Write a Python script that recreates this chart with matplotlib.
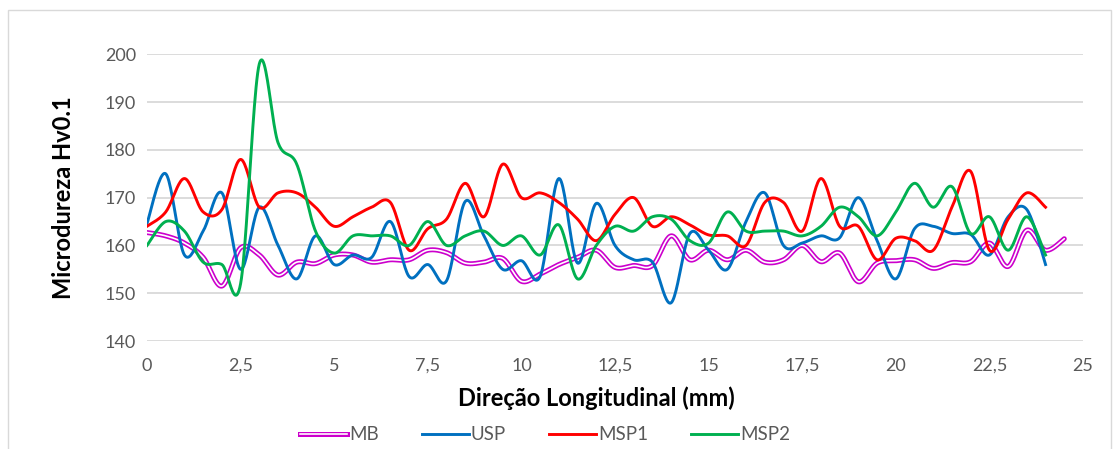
import numpy as np
import matplotlib.pyplot as plt
from matplotlib.lines import Line2D
from matplotlib.patches import Rectangle

plt.rcParams['font.family'] = ['Lato', 'DejaVu Sans']

dist = [0, 0.5, 1, 1.5, 2, 2.5, 3, 3.5, 4, 4.5, 5, 5.5, 6, 6.5, 7, 7.5, 8, 8.5, 9, 9.5,
        10, 10.5, 11, 11.5, 12, 12.5, 13, 13.5, 14, 14.5, 15, 15.5, 16, 16.5, 17, 17.5,
        18, 18.5, 19, 19.5, 20, 20.5, 21, 21.5, 22, 22.5, 23, 23.5, 24, 24.5]

mb = [162.7, 162, 160.5, 157.5, 151.5, 159.5, 158, 153.8, 156.5, 156.2,
      158, 158, 156.5, 157, 157, 159, 158.5, 156.3, 156.5, 157.3,
      152.5, 154, 156, 157.5, 159, 155.4, 155.8, 155.8, 162, 157,
      159, 157, 159, 156.5, 157, 160, 156.6, 158.4, 152.4, 156.3,
      156.8, 157, 155.2, 156.4, 156.6, 160.5, 155.6, 163.2, 159, 161.4]
usp = [164.6, 175, 158, 163, 171, 155, 168, 160, 153, 162,
       156, 158, 157.5, 165, 153.5, 156, 152.6, 169.2, 162, 155,
       156.8, 153.5, 174, 156.3, 168.8, 160, 157, 156.5, 148, 162.5,
       159, 155, 165, 171, 160, 160.5, 162, 161.6, 170, 161,
       153, 163.5, 164, 162.5, 162.3, 158, 166, 167.5, 156]
msp1 = [164, 167, 174, 167, 167.5, 178, 168, 171, 171, 168,
        164, 166, 168, 169, 159, 163.5, 165.5, 173, 166, 177,
        170, 171, 169, 165.5, 161, 166.5, 170, 164, 166, 164.3,
        162.2, 162, 160, 169, 169, 163, 174, 164, 164, 157,
        161.5, 161, 159, 168, 175.5, 159, 165.5, 171, 168]
msp2 = [160, 165, 163, 156.5, 156, 152, 198, 181.5, 177, 163,
        158.4, 162, 162, 162, 160, 165, 160, 162, 163, 160,
        162, 158, 164.3, 153, 160, 164, 163, 166, 165.5, 161,
        160.5, 167, 163, 163, 163, 162, 164, 168, 166, 162,
        167, 173, 168, 172.3, 162.5, 166, 159, 166, 158]

xticks = [0, 2.5, 5, 7.5, 10, 12.5, 15, 17.5, 20, 22.5, 25]
xticklabels = ['0', '2,5', '5', '7,5', '10', '12,5', '15', '17,5', '20', '22,5', '25']


def smooth(x, y, n=24):
    # bezier curves like Excel "smoothed line"
    p = np.column_stack([x, y]).astype(float)
    out = []
    t = np.linspace(0, 1, n)[:, None]
    for i in range(len(p) - 1):
        p0 = p[i - 1] if i > 0 else p[i]
        p1 = p[i]
        p2 = p[i + 1]
        p3 = p[i + 2] if i + 2 < len(p) else p[i + 1]
        c1 = p1 + (p2 - p0) / 6
        c2 = p2 - (p3 - p1) / 6
        seg = (1 - t)**3 * p1 + 3 * (1 - t)**2 * t * c1 + 3 * (1 - t) * t**2 * c2 + t**3 * p2
        out.append(seg if i == 0 else seg[1:])
    s = np.vstack(out)
    return s[:, 0], s[:, 1]


fig = plt.figure(figsize=(11.18, 4.49), dpi=100)
ax = fig.add_axes([147/1118, 1-341/449, (1083-147)/1118, (341-54.3)/449])

gray = '#595959'
c_mb = '#CC00CC'
c_usp = '#0070C0'
c_msp1 = '#FF0000'
c_msp2 = '#00B050'
lw = 2.1

sx, sy = smooth(dist, mb)
ax.plot(sx, sy, color=c_mb, lw=3.6, solid_capstyle='round', zorder=3)
ax.plot(sx, sy, color='white', lw=1.2, solid_capstyle='round', zorder=3)
sx, sy = smooth(dist[:len(usp)], usp)
ax.plot(sx, sy, color=c_usp, lw=lw, zorder=4)
sx, sy = smooth(dist[:len(msp1)], msp1)
ax.plot(sx, sy, color=c_msp1, lw=lw, zorder=5)
sx, sy = smooth(dist[:len(msp2)], msp2)
ax.plot(sx, sy, color=c_msp2, lw=lw, zorder=6)

ax.set_xlim(0, 25)
ax.set_ylim(140, 200)
ax.set_yticks(range(140, 201, 10))
ax.set_xticks(xticks)
ax.set_xticklabels(xticklabels)
ax.grid(axis='y', color='#D9D9D9', lw=1.3)
ax.set_axisbelow(True)
for s in ax.spines.values():
    s.set_visible(False)
ax.tick_params(length=0, colors=gray, labelsize=13, pad=12)
ax.tick_params(axis='y', pad=8)

ax.set_xlabel('Direção Longitudinal (mm)', fontsize=17, fontweight='bold')
ax.set_ylabel('Microdureza Hv0.1', fontsize=17, fontweight='bold')
ax.xaxis.set_label_coords(0.48, -0.16)
ax.yaxis.set_label_coords(-0.077, 0.5)

h_mb = (Line2D([], [], color=c_mb, lw=3.6), Line2D([], [], color='white', lw=1.2))
handles = [h_mb,
           Line2D([], [], color=c_usp, lw=lw),
           Line2D([], [], color=c_msp1, lw=lw),
           Line2D([], [], color=c_msp2, lw=lw)]
fig.legend(handles, ['MB', 'USP', 'MSP1', 'MSP2'], loc='center', bbox_to_anchor=(545/1118, 1-435/449),
           ncol=4, frameon=False, fontsize=13.5, labelcolor=gray, handlelength=2.5,
           handletextpad=0.1, columnspacing=2.3)

fig.patches.append(Rectangle((8/1118, -0.1), 1103/1118, 1.1 - 10/449, transform=fig.transFigure,
                             fill=False, edgecolor='#D9D9D9', lw=1))

fig.savefig('out.png', dpi=100)
